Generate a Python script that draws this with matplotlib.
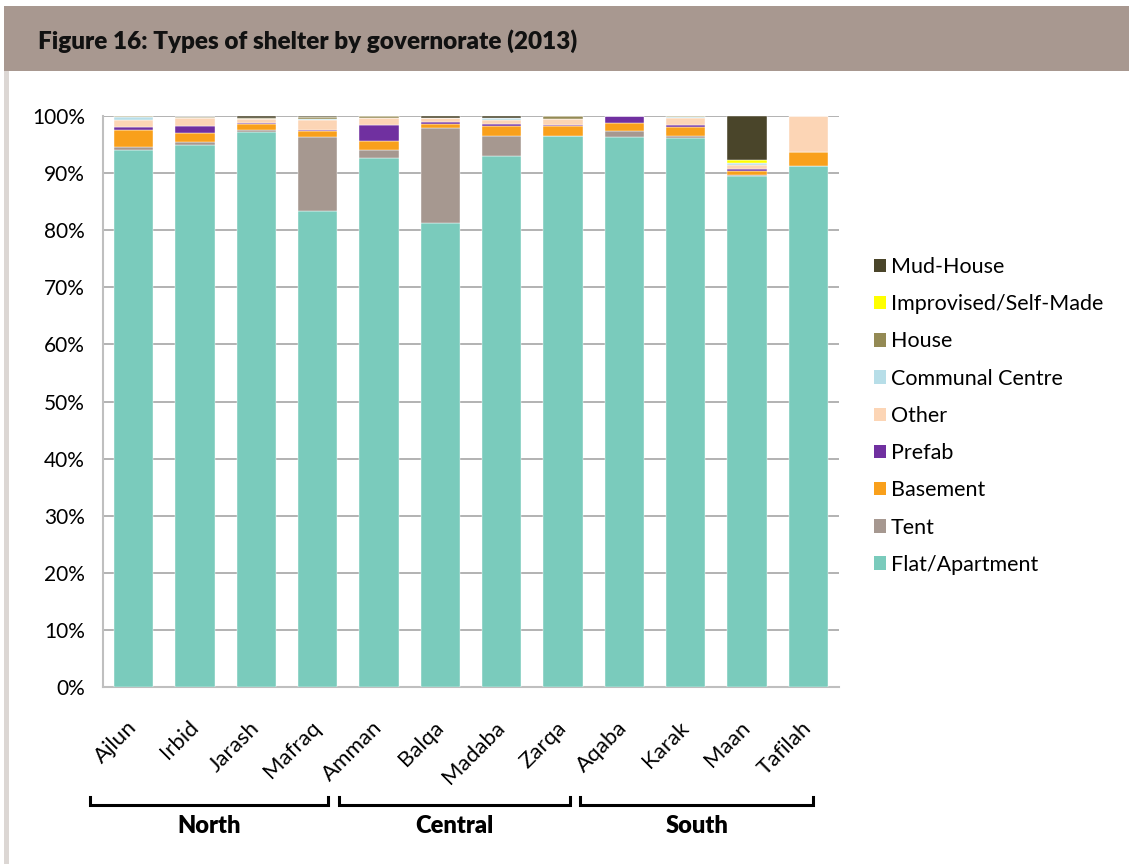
import matplotlib.pyplot as plt
import matplotlib.transforms as mtransforms
from matplotlib.patches import Rectangle, Patch
from matplotlib.lines import Line2D
import numpy as np

plt.rcParams['font.family'] = ['Lato', 'DejaVu Sans']

governorates = ['Ajlun', 'Irbid', 'Jarash', 'Mafraq', 'Amman', 'Balqa',
                'Madaba', 'Zarqa', 'Aqaba', 'Karak', 'Maan', 'Tafilah']

# shares in percent, bottom to top of each stack
flat = [94.0, 95.0, 97.25, 83.4, 92.6, 81.3, 93.0, 96.45, 96.25, 96.1, 89.5, 91.25]
tent = [0.5, 0.4, 0.25, 13.0, 1.5, 16.6, 3.55, 0.0, 1.15, 0.35, 0.15, 0.0]
basement = [3.0, 1.7, 1.1, 0.9, 1.6, 0.65, 1.75, 1.8, 1.3, 1.6, 0.8, 2.45]
prefab = [0.5, 1.2, 0.25, 0.3, 2.7, 0.35, 0.25, 0.15, 1.3, 0.3, 0.3, 0.0]
other = [1.3, 1.3, 0.7, 1.7, 1.2, 0.8, 0.75, 1.0, 0.0, 1.3, 0.75, 6.3]
communal = [0.5, 0.0, 0.0, 0.25, 0.0, 0.0, 0.3, 0.0, 0.0, 0.15, 0.35, 0.0]
house = [0.2, 0.3, 0.15, 0.2, 0.4, 0.0, 0.0, 0.6, 0.0, 0.2, 0.0, 0.0]
improvised = [0.0, 0.0, 0.0, 0.0, 0.0, 0.0, 0.0, 0.0, 0.0, 0.0, 0.5, 0.0]
mud_house = [0.0, 0.0, 0.3, 0.3, 0.0, 0.35, 0.4, 0.0, 0.0, 0.0, 7.6, 0.0]

series = [
    ('Flat/Apartment', flat, '#7ACBBC'),
    ('Tent', tent, '#A69890'),
    ('Basement', basement, '#F9A01B'),
    ('Prefab', prefab, '#7030A0'),
    ('Other', other, '#FCD5B5'),
    ('Communal Centre', communal, '#B7DEE8'),
    ('House', house, '#948A54'),
    ('Improvised/Self-Made', improvised, '#FFFF00'),
    ('Mud-House', mud_house, '#4A452A'),
]

regions = ['North', 'Central', 'South']
region_spans = [(-0.71, 3.17), (3.34, 7.12), (7.28, 11.08)]

W, H = 1129, 864
fig = plt.figure(figsize=(W / 100, H / 100), dpi=100)

# header banner and left margin strip
fig.add_artist(Rectangle((4 / W, 1 - 71 / H), 1, 65 / H, transform=fig.transFigure,
                         facecolor='#A89890', edgecolor='none', zorder=0))
fig.add_artist(Rectangle((4 / W, 0), 5 / W, 1 - 71 / H, transform=fig.transFigure,
                         facecolor='#DCD7D4', edgecolor='none', zorder=0))
fig.text(38 / W, 1 - 41 / H, 'Figure 16: Types of shelter by governorate (2013)',
         fontsize=17.5, fontweight='heavy', color='#111111', va='center', ha='left')

ax = fig.add_axes([103 / W, 177 / H, 736 / W, 571 / H])
x = np.arange(len(governorates))
bottom = np.zeros(len(governorates))
for name, vals, color in series:
    vals = np.array(vals)
    ax.bar(x, vals, 0.64, bottom=bottom, color=color, label=name, zorder=3,
           edgecolor='white', linewidth=0.3)
    bottom += vals

ax.set_xlim(-0.5, 11.5)
ax.set_ylim(0, 100)
ax.set_yticks(np.arange(0, 101, 10))
ax.set_yticklabels([f'{v}%' for v in range(0, 101, 10)], fontsize=15)
ax.yaxis.grid(True, color='#A6A6A6', linewidth=1.2, zorder=0)
ax.tick_params(axis='y', length=0, pad=13)
ax.tick_params(axis='x', length=0, pad=27)
ax.set_xticks(x)
ax.set_xticklabels(governorates, rotation=45, ha='right', va='center',
                   rotation_mode='anchor', fontsize=16)
for side in ['top', 'right']:
    ax.spines[side].set_visible(False)
for side in ['left', 'bottom']:
    ax.spines[side].set_color('#BFBFBF')
    ax.spines[side].set_linewidth(1.5)

# region brackets below the governorate names
trans = mtransforms.blended_transform_factory(ax.transData, fig.transFigure)
y_line = 1 - 805 / H
y_tip = 1 - 797 / H
for label, (x0, x1) in zip(regions, region_spans):
    fig.add_artist(Line2D([x0, x0, x1, x1], [y_tip, y_line, y_line, y_tip],
                          transform=trans, color='black', linewidth=2.2,
                          solid_joinstyle='miter'))
    fig.text((x0 + x1) / 2, 1 - 826 / H, label, transform=trans, ha='center',
             va='center', fontsize=17, fontweight='heavy')

handles = [Patch(facecolor=c, edgecolor='none') for _, _, c in series][::-1]
labels = [n for n, _, _ in series][::-1]
ax.legend(handles, labels, loc='upper left', frameon=False, fontsize=15.5,
          bbox_to_anchor=(874 / W, 1 - 257 / H), bbox_transform=fig.transFigure,
          borderaxespad=0, borderpad=0, handlelength=0.58, handleheight=0.58,
          handletextpad=0.2, labelspacing=0.8)

fig.savefig('out.png', dpi=100, facecolor='white')
